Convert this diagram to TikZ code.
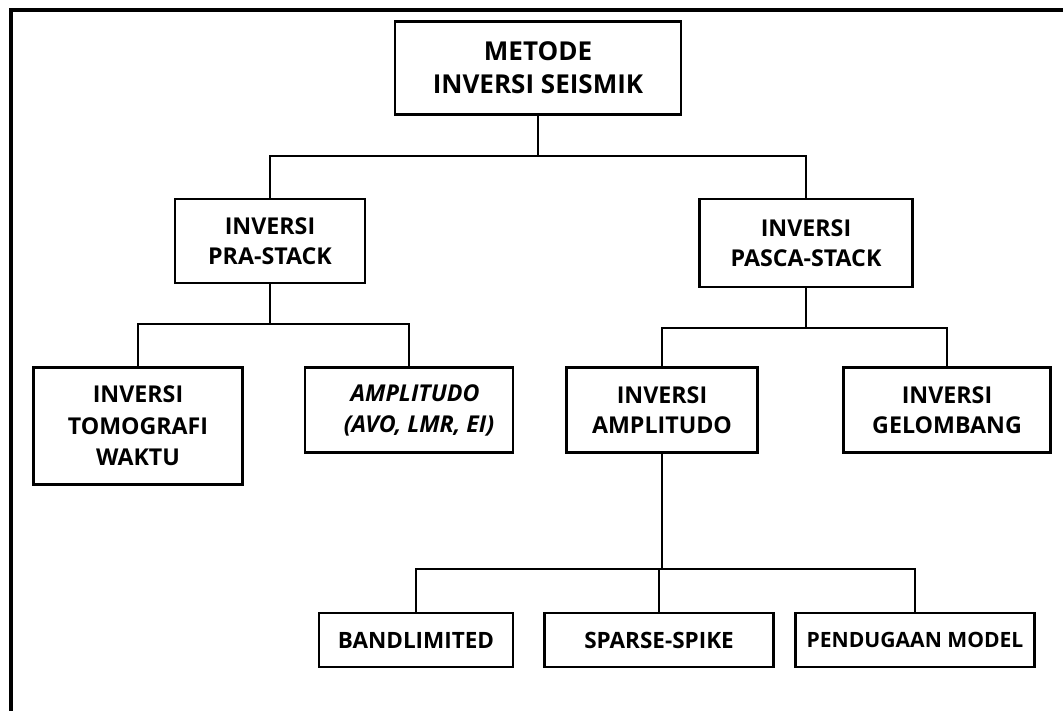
\documentclass[tikz,border=0pt]{standalone}
\usepackage{fontspec}
\setmainfont{Open Sans}
\usepackage{tikz}

\begin{document}
\begin{tikzpicture}
		[x=0.025cm, y=-0.025cm,
		kotak/.style= {draw=black, line width=2pt, rectangle, inner sep=0pt, align=center,
			font=\fontsize{16.5}{21}\selectfont\bfseries},
		garis/.style= {draw=black, line width=1.6pt}]

		\useasboundingbox (0,0) rectangle (1063,711);
		\draw[line width=2.2pt] (1063,10) -- (11,10) -- (11,711);

		\node[kotak, minimum width=7.15cm, minimum height=2.33cm,
			font=\fontsize{18.5}{23.5}\selectfont\bfseries] (metode) at (538,68) {METODE\\INVERSI SEISMIK};

		\node[kotak, minimum width=4.75cm, minimum height=2.1cm] (pra) at (270,241) {INVERSI\\PRA-STACK};
		\node[kotak, minimum width=5.33cm, minimum height=2.2cm] (pasca) at (806,243) {INVERSI\\PASCA-STACK};

		\node[kotak, minimum width=5.23cm, minimum height=2.93cm,
			font=\fontsize{16.5}{22.5}\selectfont\bfseries] (tomo) at (138,426) {INVERSI\\TOMOGRAFI\\WAKTU};
		\node[kotak, minimum width=5.2cm, minimum height=2.13cm,
			font=\fontsize{16.5}{22}\selectfont\bfseries\itshape] (avo) at (409,410) {\hspace*{0.3cm}AMPLITUDO\\\hspace*{0.5cm}(AVO, LMR, EI)};
		\node[kotak, minimum width=4.78cm, minimum height=2.13cm] (invamp) at (662,410) {INVERSI\\AMPLITUDO};
		\node[kotak, minimum width=5.18cm, minimum height=2.13cm] (gel) at (947,410) {INVERSI\\GELOMBANG};

		\node[kotak, minimum width=4.85cm, minimum height=1.35cm,
			font=\fontsize{16}{20}\selectfont\bfseries] (band) at (416,640) {BANDLIMITED};
		\node[kotak, minimum width=5.73cm, minimum height=1.35cm,
			font=\fontsize{16}{20}\selectfont\bfseries] (sparse) at (659,640) {SPARSE-SPIKE};
		\node[kotak, minimum width=5.98cm, minimum height=1.35cm,
			font=\fontsize{15}{20}\selectfont\bfseries] (model) at (915,640) {PENDUGAAN MODEL};

		\coordinate (c1) at (538,156);
		\coordinate (c2) at (270,324);
		\coordinate (c3) at (806,328);
		\coordinate (c4) at (662,569);

		\draw[garis] (metode) -- (c1);
		\draw[garis] (c1) -| (pra);
		\draw[garis] (c1) -| (pasca);

		\draw[garis] (pra) -- (c2);
		\draw[garis] (c2) -| (tomo);
		\draw[garis] (c2) -| (avo);

		\draw[garis] (pasca) -- (c3);
		\draw[garis] (c3) -| (invamp);
		\draw[garis] (c3) -| (gel);

		\draw[garis] (invamp) -- (c4);
		\draw[garis] (c4) -| (band);
		\draw[garis] (c4) -| (sparse);
		\draw[garis] (c4) -| (model);

	\end{tikzpicture}
\end{document}
